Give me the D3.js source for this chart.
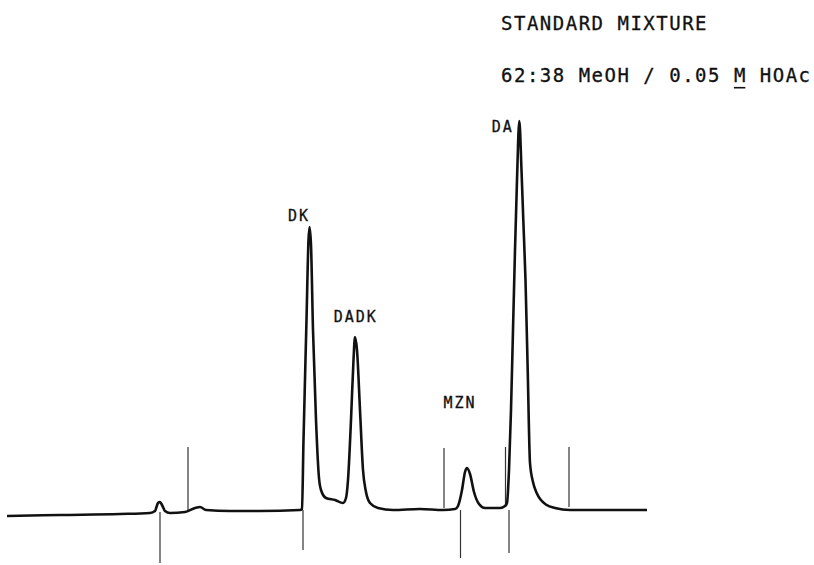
<!DOCTYPE html>
<html>
<head>
<meta charset="utf-8">
<script src="https://cdn.jsdelivr.net/npm/d3@7"></script>
<style>
  body { margin: 0; background: #fff; }
  svg { display: block; }
</style>
</head>
<body>
<div id="chrom"></div>
<script>
// detector trace: time (min) and signal (% full scale)
const traceTime = [0, 2.65, 5.65, 7.15, 7.4, 7.55, 7.65, 7.75, 7.9, 8.15, 8.9, 9.4, 9.65, 9.95, 11.15, 12.65,
  14.65, 14.75, 14.825, 14.975, 15.075, 15.125, 15.2, 15.3, 15.45, 15.6, 15.7, 15.95, 16.4, 16.8,
  16.95, 17.05, 17.2, 17.325, 17.4, 17.5, 17.65, 17.8, 17.95, 18.15, 18.55, 19.3, 20.65, 21.8,
  22.4, 22.55, 22.75, 22.9, 23.0, 23.15, 23.35, 23.6, 23.9, 24.65, 24.9, 25.0, 25.1, 25.2, 25.3,
  25.4, 25.5, 25.615, 25.725, 25.815, 25.925, 26.035, 26.15, 26.3, 26.485, 26.985, 27.4, 28.15, 29.65, 32];
const traceSignal = [-0.25, 0, 0.25, 0.5, 1.0, 3.0, 3.25, 2.5, 1.0, 0.5, 0.75, 1.75, 2.0, 1.25, 1.0, 1.0,
  1.25, 1.5, 18.75, 48.75, 68.75, 72, 67.5, 46.25, 23.75, 9.25, 6.25, 4.25, 3.75, 3.0,
  4.25, 8.75, 23.75, 38.75, 44.5, 41.25, 26.25, 11.25, 5.75, 3.0, 1.75, 1.25, 1.5, 1.25,
  1.5, 2.25, 6.25, 10.75, 11.75, 10.25, 5.75, 2.75, 1.75, 1.75, 2.25, 3.0, 11.25, 26.25, 46.25,
  66.25, 83.75, 98.5, 86.25, 73.75, 58.75, 36.25, 13, 8.25, 5.5, 2.5, 1.75, 1.25, 1.25, 1.25];

// peaks: name, apex time, apex signal
const peakNames = ["DK", "DADK", "MZN", "DA"];
const peakTime = [15.125, 17.4, 23.0, 25.615];
const peakSignal = [72, 44.5, 11.75, 98.5];

// integrator event marks: time, start and end signal
const markTime = [7.65, 9.05, 14.8, 21.85, 22.675, 24.925, 25.1, 28.1];
const markFrom = [0.75, 1.0, 1.25, 1.75, 1.25, 2.0, 1.25, 2.0];
const markTo = [-12, 17, -8.75, 16.75, -10.75, 17, -9.5, 17];

const titleLines = ["STANDARD MIXTURE", "62:38 MeOH / 0.05 M HOAc"];

// layout
const width = 814, height = 565;
const x = d3.scaleLinear([0, 32], [7, 647]);
const y = d3.scaleLinear([0, 100], [515, 115]);
const labelOffset = [[-11.5, -6], [-0.3, -15], [-8, -60], [-17.6, 10.7]];
const ink = "#111";

const svg = d3.select("#chrom").append("svg")
  .attr("width", width)
  .attr("height", height)
  .attr("viewBox", [0, 0, width, height]);

const trace = traceTime.map((t, i) => ({ t, v: traceSignal[i] }));

const line = d3.line()
  .x(d => x(d.t))
  .y(d => y(d.v))
  .curve(d3.curveMonotoneX);

// event marks
svg.append("g")
  .attr("stroke", "#333")
  .attr("stroke-width", 1.2)
  .selectAll("line")
  .data(markTime)
  .join("line")
  .attr("x1", d => x(d))
  .attr("x2", d => x(d))
  .attr("y1", (d, i) => y(markFrom[i]))
  .attr("y2", (d, i) => y(markTo[i]));

svg.append("path")
  .attr("d", line(trace))
  .attr("fill", "none")
  .attr("stroke", ink)
  .attr("stroke-width", 2.6)
  .attr("stroke-linejoin", "round");

// peak labels
svg.append("g")
  .attr("font-family", "'DejaVu Sans Mono', monospace")
  .attr("font-size", 15)
  .attr("letter-spacing", 2)
  .attr("fill", ink)
  .attr("stroke", ink)
  .attr("stroke-width", 0.3)
  .attr("text-anchor", "middle")
  .selectAll("text")
  .data(peakNames)
  .join("text")
  .attr("x", (d, i) => x(peakTime[i]) + labelOffset[i][0] + 1)
  .attr("y", (d, i) => y(peakSignal[i]) + labelOffset[i][1])
  .text(d => d);

// title block
const title = svg.append("g")
  .attr("font-family", "'DejaVu Sans Mono', monospace")
  .attr("font-size", 19)
  .attr("letter-spacing", 1.5)
  .attr("fill", ink)
  .attr("stroke", ink)
  .attr("stroke-width", 0.3);

title.selectAll("text")
  .data(titleLines)
  .join("text")
  .attr("x", 501)
  .attr("y", (d, i) => 29.5 + i * 52.2)
  .text(d => d);

// underline the molarity "M"
const sub = title.selectAll("text").nodes()[1];
const mIdx = titleLines[1].indexOf(" M ") + 1;
const box = sub.getExtentOfChar(mIdx);
title.append("line")
  .attr("x1", box.x)
  .attr("x2", box.x + box.width - 1.5)
  .attr("y1", 87.7)
  .attr("y2", 87.7)
  .attr("stroke", ink)
  .attr("stroke-width", 1.6);
</script>
</body>
</html>
